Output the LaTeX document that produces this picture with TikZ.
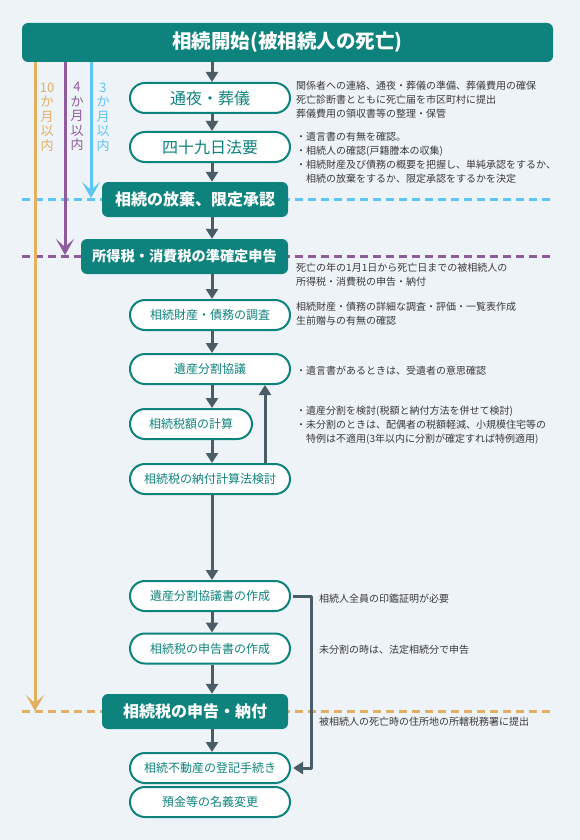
\documentclass[tikz,border=0pt]{standalone}
\usepackage{fontspec}
\setmainfont{Noto Sans CJK JP}
\usetikzlibrary{arrows.meta}
\usetikzlibrary{backgrounds}
\definecolor{bgcol}{HTML}{EEF3F7}
\definecolor{tealcol}{HTML}{0E837D}
\definecolor{flowcol}{HTML}{4A5C66}
\definecolor{notecol}{HTML}{3A3A3A}
\definecolor{tencol}{HTML}{E2B060}
\definecolor{fourcol}{HTML}{8D5B9E}
\definecolor{threecol}{HTML}{5DC6F6}
\tikzset{
    headbox/.style={fill=tealcol,rounded corners=6pt,minimum width=531pt,minimum height=39pt,text=white,font=\bfseries\fontsize{19.5}{19.5}\selectfont,inner sep=0pt},
    pill/.style={draw=tealcol,line width=2pt,fill=white,rounded corners=15pt,minimum width=160pt,minimum height=30pt,text=tealcol,font=\fontsize{12}{12}\selectfont,inner sep=0pt},
    stage/.style={fill=tealcol,rounded corners=6pt,minimum width=186pt,minimum height=35pt,text=white,font=\bfseries\fontsize{16}{16}\selectfont,inner sep=0pt},
    note/.style={anchor=north west,align=left,text=notecol,font=\fontsize{10}{14}\selectfont,inner sep=0pt},
    months/.style={anchor=north,align=center,font=\fontsize{13}{14.5}\selectfont,inner sep=0pt},
    flow/.style={->,draw=flowcol,line width=3pt},
    limit/.style={line width=3pt,-{Stealth[width=18pt,length=16pt,inset=8pt]}},
    due/.style={line width=3pt,dash pattern=on 8pt off 5pt}
}
\begin{document}
\begin{tikzpicture}[x=1pt,y=-1pt,>={Triangle[width=12pt,length=10pt]},line join=bevel]
    \useasboundingbox (0,0) rectangle (580,840);
    %%
    \coordinate (col) at (212,0);
    \coordinate (back) at (265,0);
    \coordinate (ten) at (35,711);
    \coordinate (four) at (65,255);
    \coordinate (three) at (91,198);
    % Node: start
    \node[headbox] (start) at (287.5,42.5) {相続開始(被相続人の死亡)};
    % Node: tsuya
    \node[pill,font=\fontsize{16}{16}\selectfont] (tsuya) at (210,98) {通夜・葬儀};
    % Node: shiju
    \node[pill,font=\fontsize{16}{16}\selectfont] (shiju) at (210,147) {四十九日法要};
    % Node: houki
    \node[stage] (houki) at (195,199.5) {相続の放棄、限定承認};
    % Node: junkakutei
    \node[stage,minimum width=207pt,font=\bfseries\fontsize{14.2}{14.2}\selectfont] (junkakutei) at (184.5,256.5) {所得税・消費税の準確定申告};
    % Node: chosa
    \node[pill] (chosa) at (210,315) {相続財産・債務の調査};
    % Node: kyogi
    \node[pill] (kyogi) at (210,369) {遺産分割協議};
    % Node: keisan
    \node[pill,minimum width=122pt] (keisan) at (191,424) {相続税額の計算};
    % Node: kento
    \node[pill] (kento) at (210,479) {相続税の納付計算法検討};
    % Node: kyogisho
    \node[pill] (kyogisho) at (210,596) {遺産分割協議書の作成};
    % Node: shinkokusho
    \node[pill] (shinkokusho) at (210,648.5) {相続税の申告書の作成};
    % Node: nofu
    \node[stage] (nofu) at (195,711.5) {相続税の申告・納付};
    % Node: touki
    \node[pill] (touki) at (210,768) {相続不動産の登記手続き};
    % Node: meigi
    \node[pill] (meigi) at (210,802) {預金等の名義変更};
    %
    \begin{scope}[on background layer]
        \fill[bgcol] (0,0) rectangle (580,840);
        \draw[due,threecol] (start.west |- houki) -- (start.east |- houki);
        \draw[due,fourcol] (start.west |- junkakutei) -- (start.east |- junkakutei);
        \draw[due,tencol] (start.west |- nofu) -- (start.east |- nofu);
    \end{scope}
    % Limits
    \draw[limit,tencol] (start.south -| ten) -- (ten);
    \draw[limit,fourcol] (start.south -| four) -- (four);
    \draw[limit,threecol] (start.south -| three) -- (three);
    \node[months,text=tencol] (tenlabel) at (47,82.5) {10\\か\\月\\以\\内};
    \node[months,text=fourcol] (fourlabel) at (77,82.5) {4\\か\\月\\以\\内};
    \node[months,text=threecol] (threelabel) at (103,82.5) {3\\か\\月\\以\\内};
    % Edge: start -> tsuya
    \draw[flow] (start.south -| col) -- (tsuya.north -| col);
    % Edge: tsuya -> shiju
    \draw[flow] (tsuya.south -| col) -- (shiju.north -| col);
    % Edge: shiju -> houki
    \draw[flow] (shiju.south -| col) -- (houki.north -| col);
    % Edge: houki -> junkakutei
    \draw[flow] (houki.south -| col) -- (junkakutei.north -| col);
    % Edge: junkakutei -> chosa
    \draw[flow] (junkakutei.south -| col) -- (chosa.north -| col);
    % Edge: chosa -> kyogi
    \draw[flow] (chosa.south -| col) -- (kyogi.north -| col);
    % Edge: kyogi -> keisan
    \draw[flow] (kyogi.south -| col) -- (keisan.north -| col);
    % Edge: keisan -> kento
    \draw[flow] (keisan.south -| col) -- (kento.north -| col);
    % Edge: kento -> kyogi
    \draw[flow] (kento.north -| back) -- (kyogi.south -| back);
    % Edge: kento -> kyogisho
    \draw[flow] (kento.south -| col) -- (kyogisho.north -| col);
    % Edge: kyogisho -> shinkokusho
    \draw[flow] (kyogisho.south -| col) -- (shinkokusho.north -| col);
    % Edge: shinkokusho -> nofu
    \draw[flow] (shinkokusho.south -| col) -- (nofu.north -| col);
    % Edge: nofu -> touki
    \draw[flow] (nofu.south -| col) -- (touki.north -| col);
    % Edge: kyogisho -> touki
    \draw[flow] ([xshift=2pt]kyogisho.east) -- ++(18,0) |- ([xshift=2pt]touki.east);
    % Notes
    \node[note] (tsuyanote) at (296,80.5) {関係者への連絡、通夜・葬儀の準備、葬儀費用の確保\\死亡診断書とともに死亡届を市区町村に提出\\葬儀費用の領収書等の整理・保管};
    \node[note] (shijunote) at (296,131.5) {・遺言書の有無を確認。\\・相続人の確認(戸籍謄本の収集)\\・相続財産及び債務の概要を把握し、単純承認をするか、\\\hspace*{1em}相続の放棄をするか、限定承認をするかを決定};
    \node[note] (junnote) at (296,262.5) {死亡の年の1月1日から死亡日までの被相続人の\\所得税・消費税の申告・納付};
    \node[note] (chosanote) at (296,301.5) {相続財産・債務の詳細な調査・評価・一覧表作成\\生前贈与の有無の確認};
    \node[note] (kyoginote) at (296,365.5) {・遺言書があるときは、受遺者の意思確認};
    \node[note] (keisannote) at (296,405.5) {・遺産分割を検討(税額と納付方法を併せて検討)\\・未分割のときは、配偶者の税額軽減、小規模住宅等の\\\hspace*{1em}特例は不適用(3年以内に分割が確定すれば特例適用)};
    \node[note] (kyogishonote) at (319,593.5) {相続人全員の印鑑証明が必要};
    \node[note] (shinkokushonote) at (319,644.5) {未分割の時は、法定相続分で申告};
    \node[note] (nofunote) at (319,716.5) {被相続人の死亡時の住所地の所轄税務署に提出};
    %
\end{tikzpicture}
\end{document}
